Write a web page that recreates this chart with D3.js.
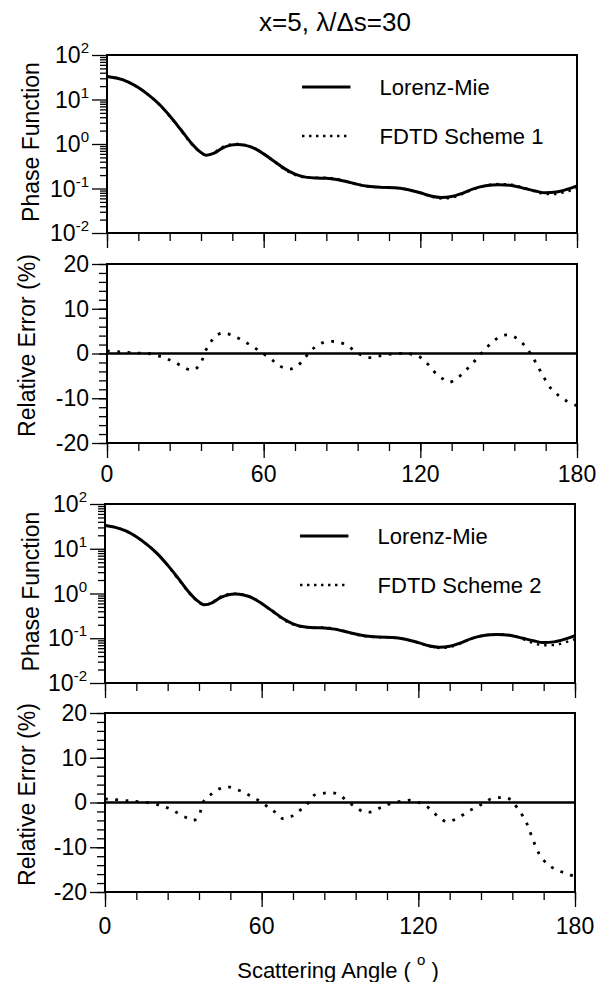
<!DOCTYPE html>
<html><head><meta charset="utf-8">
<script src="https://cdn.jsdelivr.net/npm/d3@7"></script>
<style>body{margin:0;background:#fff}svg{display:block}</style>
</head><body>
<svg id="c" width="605" height="982"></svg>
<script>
// ---- data ----
const phaseAngles = [0,4,8,12,16,20,24,28,32,35,38,41,44,47,50,53,56,60,64,68,72,76,80,84,88,92,96,100,105,110,115,120,124,128,132,136,140,145,150,155,160,164,168,172,176,180];
const lorenzMie = [33,30,25,18.5,12.5,7.8,4.3,2.2,1.1,0.72,0.56,0.62,0.8,0.93,0.97,0.93,0.82,0.6,0.41,0.28,0.21,0.18,0.172,0.17,0.16,0.142,0.124,0.112,0.106,0.104,0.095,0.08,0.068,0.063,0.066,0.078,0.097,0.115,0.122,0.117,0.1,0.088,0.08,0.083,0.095,0.115];
const fdtdScheme1 = [33.2,30.1,25.1,18.5,12.5,7.75,4.23,2.14,1.06,0.7,0.56,0.64,0.84,0.97,1.0,0.95,0.83,0.6,0.4,0.27,0.203,0.177,0.175,0.174,0.164,0.144,0.124,0.111,0.106,0.104,0.095,0.0795,0.066,0.0595,0.0625,0.075,0.095,0.117,0.126,0.122,0.101,0.086,0.075,0.0755,0.085,0.1015];
const fdtdScheme2 = [33.2,30.1,25.1,18.5,12.5,7.75,4.22,2.13,1.06,0.7,0.56,0.63,0.83,0.96,0.99,0.94,0.83,0.6,0.4,0.27,0.203,0.178,0.175,0.174,0.163,0.142,0.122,0.11,0.105,0.104,0.0955,0.0797,0.0665,0.0605,0.0635,0.076,0.0965,0.116,0.1233,0.1176,0.0955,0.078,0.0696,0.0706,0.08,0.096];

const err1Angles = [0,4,8,12,16,20,23,26,29,32,34,36,38,40,42,45,48,51,54,57,60,63,65,68,71,74,76,78,80,83,86,89,92,95,98,101,104,108,112,116,119,122,125,128,131,134,137,140,143,146,149,152,155,158,161,164,167,170,173,176,180];
const err1 = [0.6,0.4,0.25,0.1,0,-0.6,-1.2,-2.0,-2.9,-3.7,-3.4,-2.0,0.9,2.8,4.1,4.6,4.0,3.2,2.2,1.1,-0.1,-1.3,-2.3,-3.3,-3.4,-2.2,-0.8,0.5,1.6,2.5,2.7,2.5,1.8,0.5,-0.5,-0.9,-0.6,-0.2,0,-0.1,-0.5,-1.8,-3.9,-5.4,-6.4,-5.6,-4.0,-2.2,-0.2,1.7,3.2,4.1,4.0,2.9,1.0,-1.8,-5.0,-7.8,-9.4,-10.6,-11.7];

const err2Angles = [0,3,7,10,14,20,23,26,29,32,34,36,38,41,44,47,51,54,57,60,63,65,68,71,74,76,78,80,83,87,90,93,96,99,102,105,107,110,114,117,119,122,125,128,131,134,137,140,143,146,148,151,154,156,158,161,163,165,167,170,173,177,180];
const err2 = [0.8,0.7,0.5,0.3,0.15,-0.45,-1.0,-1.7,-2.8,-3.6,-4.0,-2.8,0.5,2.0,3.1,3.5,2.8,2.0,1.1,0,-1.3,-2.1,-3.6,-3.2,-2.1,-1.0,0,1.6,2.0,2.2,1.6,0.15,-1.0,-2.1,-2.1,-1.3,-0.8,-0.1,0.3,0.5,0.15,-0.4,-1.7,-3.4,-4.3,-3.8,-2.8,-1.7,-0.8,0.15,0.9,1.1,1.1,0.15,-1.3,-4.0,-6.9,-9.9,-12.2,-14.0,-15.1,-15.9,-16.6];

const xMajorTicks = [0,60,120,180];
const xMinorTicks = [0,12,24,36,48,60,72,84,96,108,120,132,144,156,168,180];
const phaseExponents = [-2,-1,0,1,2];
const errMajorTicks = [-20,-10,0,10,20];
const errMinorTicks = [-20,-18,-16,-14,-12,-10,-8,-6,-4,-2,0,2,4,6,8,10,12,14,16,18,20];

const titleText = "x=5, \u03bb/\u0394s=30";
const legendNames = ["Lorenz-Mie", "FDTD Scheme 1", "FDTD Scheme 2"];

// ---- drawing ----
const svg = d3.select("#c");
const FONT = "'Liberation Sans', Arial, Helvetica, sans-serif";
const TICKFS = 23, LABFS = 23, LEGFS = 22;
svg.append("rect").attr("width",605).attr("height",982).attr("fill","#fff");

svg.append("text").attr("x",335).attr("y",31).attr("text-anchor","middle")
  .attr("font-family",FONT).attr("font-size",26).text(titleText);

function frame(g, x0, x1, y0, y1){
  g.append("rect").attr("x",x0).attr("y",y0).attr("width",x1-x0).attr("height",y1-y0)
    .attr("fill","none").attr("stroke","#000").attr("stroke-width",2);
}
function xTicks(g, x, yb){
  const a1 = g.append("g").attr("transform",`translate(0,${yb})`)
    .call(d3.axisBottom(x).tickValues(xMinorTicks).tickSize(8).tickFormat(""));
  const a2 = g.append("g").attr("transform",`translate(0,${yb})`)
    .call(d3.axisBottom(x).tickValues(xMajorTicks).tickSize(15).tickFormat(""));
  [a1,a2].forEach(a=>{a.select(".domain").remove(); a.selectAll("line").attr("stroke","#000").attr("stroke-width",1.3);});
}

function drawPhase(x0, x1, y0, y1, fdtd, name){
  const g = svg.append("g");
  const x = d3.scaleLinear().domain([0,180]).range([x0,x1]);
  const y = d3.scaleLog().domain([0.01,100]).range([y1,y0]);
  const minors = [];
  phaseExponents.slice(0,-1).forEach(e=>{ for(let m=2;m<=9;m++) minors.push(m*Math.pow(10,e)); });
  const am = g.append("g").attr("transform",`translate(${x0},0)`)
    .call(d3.axisLeft(y).tickValues(minors).tickSize(7).tickFormat(""));
  const aM = g.append("g").attr("transform",`translate(${x0},0)`)
    .call(d3.axisLeft(y).tickValues(phaseExponents.map(e=>Math.pow(10,e))).tickSize(15).tickFormat(""));
  [am,aM].forEach(a=>{a.select(".domain").remove(); a.selectAll("line").attr("stroke","#000").attr("stroke-width",1.3);});
  phaseExponents.forEach(e=>{
    const t = g.append("text").attr("x",x0-18).attr("y",y(Math.pow(10,e))+8)
      .attr("text-anchor","end").attr("font-family",FONT).attr("font-size",TICKFS);
    t.append("tspan").text("10");
    t.append("tspan").attr("dy",-10).attr("font-size",15).text(String(e));
  });
  xTicks(g, x, y1);
  const line = d3.line().x((d,i)=>x(phaseAngles[i])).y(d=>y(d)).curve(d3.curveMonotoneX);
  g.append("path").attr("d",line(lorenzMie)).attr("fill","none").attr("stroke","#000").attr("stroke-width",3);
  g.append("path").attr("d",line(fdtd)).attr("fill","none").attr("stroke","#000").attr("stroke-width",2.4)
    .attr("stroke-dasharray","2.4,5");
  frame(g, x0, x1, y0, y1);
  const lx0 = x0 + 0.415*(x1-x0), lx1 = x0 + 0.518*(x1-x0), tx = x0 + 0.58*(x1-x0);
  const r1 = y0+32, r2 = y0+81;
  g.append("line").attr("x1",lx0).attr("x2",lx1).attr("y1",r1).attr("y2",r1).attr("stroke","#000").attr("stroke-width",3);
  g.append("text").attr("x",tx).attr("y",r1+8).attr("font-family",FONT).attr("font-size",LEGFS).text(legendNames[0]);
  g.append("line").attr("x1",lx0).attr("x2",lx1).attr("y1",r2).attr("y2",r2).attr("stroke","#000").attr("stroke-width",2.4).attr("stroke-dasharray","2.4,4.6");
  g.append("text").attr("x",tx).attr("y",r2+8).attr("font-family",FONT).attr("font-size",LEGFS).text(name);
  g.append("text").attr("transform",`translate(31,${(y0+y1)/2 - 2}) rotate(-90)`).attr("text-anchor","middle")
    .attr("dy","0.35em").attr("font-family",FONT).attr("font-size",LABFS).text("Phase Function");
}

function drawErr(x0, x1, y0, y1, ang, err, labelY){
  const g = svg.append("g");
  const x = d3.scaleLinear().domain([0,180]).range([x0,x1]);
  const y = d3.scaleLinear().domain([-20,20]).range([y1,y0]);
  const am = g.append("g").attr("transform",`translate(${x0},0)`)
    .call(d3.axisLeft(y).tickValues(errMinorTicks).tickSize(8).tickFormat(""));
  const aM = g.append("g").attr("transform",`translate(${x0},0)`)
    .call(d3.axisLeft(y).tickValues(errMajorTicks).tickSize(15).tickPadding(3).tickFormat(d=>String(d)));
  [am,aM].forEach(a=>{a.select(".domain").remove(); a.selectAll("line").attr("stroke","#000").attr("stroke-width",1.3);});
  aM.selectAll("text").attr("font-family",FONT).attr("font-size",TICKFS).attr("fill","#000");
  xTicks(g, x, y1);
  xMajorTicks.forEach(v=>{
    g.append("text").attr("x",x(v)).attr("y",labelY).attr("text-anchor","middle")
      .attr("font-family",FONT).attr("font-size",TICKFS).text(String(v));
  });
  g.append("line").attr("x1",x0).attr("x2",x1).attr("y1",y(0)).attr("y2",y(0)).attr("stroke","#000").attr("stroke-width",2.5);
  const line = d3.line().x((d,i)=>x(ang[i])).y(d=>y(d)).curve(d3.curveCatmullRom);
  g.append("path").attr("d",line(err)).attr("fill","none").attr("stroke","#000").attr("stroke-width",2.8)
    .attr("stroke-dasharray","2.8,7.5");
  frame(g, x0, x1, y0, y1);
  g.append("text").attr("transform",`translate(27,${(y0+y1)/2 - 8}) rotate(-90)`).attr("text-anchor","middle")
    .attr("dy","0.35em").attr("font-family",FONT).attr("font-size",LABFS).text("Relative Error (%)");
}

drawPhase(107, 577, 55, 233, fdtdScheme1, legendNames[1]);
drawErr(107, 577, 264, 443, err1Angles, err1, 482);
drawPhase(105, 575, 504, 683, fdtdScheme2, legendNames[2]);
drawErr(105, 575, 713, 892, err2Angles, err2, 934);

const xt = svg.append("text").attr("x",338).attr("y",978).attr("text-anchor","middle")
  .attr("font-family",FONT).attr("font-size",22);
xt.append("tspan").text("Scattering Angle ( ");
xt.append("tspan").attr("dy",-13).attr("font-size",15).text("o");
xt.append("tspan").attr("dy",13).text("  )");
</script>
</body></html>
